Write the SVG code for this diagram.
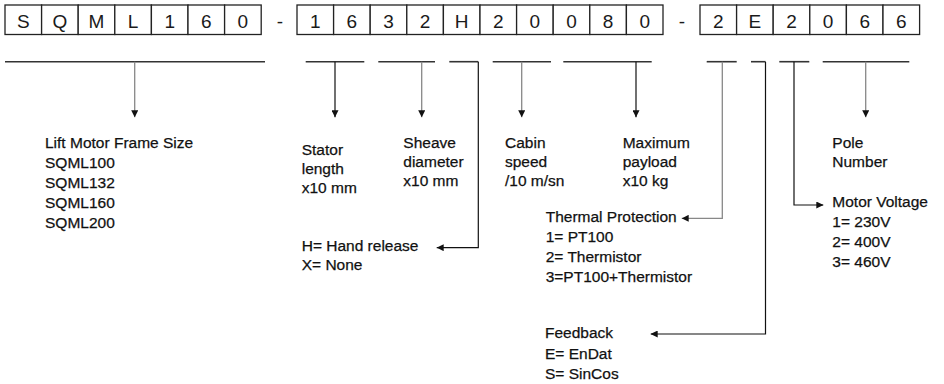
<svg xmlns="http://www.w3.org/2000/svg" width="944" height="384" viewBox="0 0 944 384">
<defs>
<style>
.cell{fill:#fff;stroke:#222;stroke-width:1.3}
.ct{font-family:"Liberation Sans",Arial,sans-serif;font-size:19px;fill:#1a1a1a;text-anchor:middle}
.lb{font-family:"Liberation Sans",Arial,sans-serif;font-size:15.5px;fill:#111;stroke:#111;stroke-width:0.25}
.bar{stroke:#333;stroke-width:1.6;fill:none}
.ln{stroke:#111;stroke-width:1.2;fill:none}
.lg{stroke:#888;stroke-width:1.3;fill:none}
</style>
<marker id="ah" viewBox="0 0 10 10" refX="10" refY="5" markerWidth="7" markerHeight="7" markerUnits="userSpaceOnUse" orient="auto">
<path d="M0,0 L10,5 L0,10 z" fill="#111"/>
</marker>
</defs>
<rect width="944" height="384" fill="#fff"/>

<g id="code-frame">
<rect class="cell" x="5" y="5" width="36.6" height="29.5"/>
<rect class="cell" x="41.6" y="5" width="36.6" height="29.5"/>
<rect class="cell" x="78.2" y="5" width="36.6" height="29.5"/>
<rect class="cell" x="114.8" y="5" width="36.6" height="29.5"/>
<rect class="cell" x="151.4" y="5" width="36.6" height="29.5"/>
<rect class="cell" x="188" y="5" width="36.6" height="29.5"/>
<rect class="cell" x="224.6" y="5" width="36.6" height="29.5"/>
<text class="ct" x="23.3" y="28">S</text>
<text class="ct" x="59.9" y="28">Q</text>
<text class="ct" x="96.5" y="28">M</text>
<text class="ct" x="133.1" y="28">L</text>
<text class="ct" x="169.7" y="28">1</text>
<text class="ct" x="206.3" y="28">6</text>
<text class="ct" x="242.9" y="28">0</text>
</g>
<text class="ct" x="280" y="28">-</text>
<g id="code-mid">
<rect class="cell" x="297" y="5" width="36.6" height="29.5"/>
<rect class="cell" x="333.6" y="5" width="36.6" height="29.5"/>
<rect class="cell" x="370.2" y="5" width="36.6" height="29.5"/>
<rect class="cell" x="406.8" y="5" width="36.6" height="29.5"/>
<rect class="cell" x="443.4" y="5" width="36.6" height="29.5"/>
<rect class="cell" x="480" y="5" width="36.6" height="29.5"/>
<rect class="cell" x="516.6" y="5" width="36.6" height="29.5"/>
<rect class="cell" x="553.2" y="5" width="36.6" height="29.5"/>
<rect class="cell" x="589.8" y="5" width="36.6" height="29.5"/>
<rect class="cell" x="626.4" y="5" width="36.6" height="29.5"/>
<text class="ct" x="315.3" y="28">1</text>
<text class="ct" x="351.9" y="28">6</text>
<text class="ct" x="388.5" y="28">3</text>
<text class="ct" x="425.1" y="28">2</text>
<text class="ct" x="461.7" y="28">H</text>
<text class="ct" x="498.3" y="28">2</text>
<text class="ct" x="534.9" y="28">0</text>
<text class="ct" x="571.5" y="28">0</text>
<text class="ct" x="608.1" y="28">8</text>
<text class="ct" x="644.7" y="28">0</text>
</g>
<text class="ct" x="682" y="28">-</text>
<g id="code-end">
<rect class="cell" x="700" y="5" width="36.6" height="29.5"/>
<rect class="cell" x="736.6" y="5" width="36.6" height="29.5"/>
<rect class="cell" x="773.2" y="5" width="36.6" height="29.5"/>
<rect class="cell" x="809.8" y="5" width="36.6" height="29.5"/>
<rect class="cell" x="846.4" y="5" width="36.6" height="29.5"/>
<rect class="cell" x="883" y="5" width="36.6" height="29.5"/>
<text class="ct" x="718.3" y="28">2</text>
<text class="ct" x="754.9" y="28">E</text>
<text class="ct" x="791.5" y="28">2</text>
<text class="ct" x="828.1" y="28">0</text>
<text class="ct" x="864.7" y="28">6</text>
<text class="ct" x="901.3" y="28">6</text>
</g>

<g id="connectors">
<line class="bar" x1="5" y1="61.7" x2="265" y2="61.7"/>
<line class="lg" x1="134.7" y1="61.7" x2="134.7" y2="117.3" marker-end="url(#ah)"/>
<line class="bar" x1="305.7" y1="61.7" x2="364.3" y2="61.7"/>
<line class="ln" x1="335" y1="61.7" x2="335" y2="117.3" marker-end="url(#ah)"/>
<line class="bar" x1="378.3" y1="61.7" x2="435" y2="61.7"/>
<line class="lg" x1="421.7" y1="61.7" x2="421.7" y2="117.3" marker-end="url(#ah)"/>
<path class="bar" d="M449.3,61.7 H478.3"/>
<path class="ln" d="M478.3,61.7 V247.7 H436.7" marker-end="url(#ah)"/>
<line class="bar" x1="492.7" y1="61.7" x2="551" y2="61.7"/>
<line class="lg" x1="521.7" y1="61.7" x2="521.7" y2="117.3" marker-end="url(#ah)"/>
<line class="bar" x1="563.3" y1="61.7" x2="651.7" y2="61.7"/>
<line class="ln" x1="636" y1="61.7" x2="636" y2="117.3" marker-end="url(#ah)"/>
<line class="bar" x1="706.7" y1="61.7" x2="736.7" y2="61.7"/>
<path class="lg" d="M722.3,61.7 V218.3 H681.7" marker-end="url(#ah)"/>
<line class="bar" x1="751" y1="61.7" x2="765.5" y2="61.7"/>
<path class="ln" d="M765.5,61.7 V334 H650.7" marker-end="url(#ah)"/>
<line class="bar" x1="779.3" y1="61.7" x2="809.3" y2="61.7"/>
<path class="ln" d="M794,61.7 V205 H823.3" marker-end="url(#ah)"/>
<line class="bar" x1="822.7" y1="61.7" x2="909.3" y2="61.7"/>
<line class="lg" x1="865.7" y1="61.7" x2="865.7" y2="117.3" marker-end="url(#ah)"/>
</g>

<g id="frame-size">
<text class="lb" x="45" y="148.3">Lift Motor Frame Size</text>
<text class="lb" x="45" y="168.3">SQML100</text>
<text class="lb" x="45" y="188.3">SQML132</text>
<text class="lb" x="45" y="208.3">SQML160</text>
<text class="lb" x="45" y="228.3">SQML200</text>
</g>
<g id="stator-length">
<text class="lb" x="301.7" y="155">Stator</text>
<text class="lb" x="301.7" y="173.5">length</text>
<text class="lb" x="301.7" y="192.7">x10 mm</text>
</g>
<g id="sheave-diameter">
<text class="lb" x="403.3" y="147.7">Sheave</text>
<text class="lb" x="403.3" y="166.5">diameter</text>
<text class="lb" x="403.3" y="186">x10 mm</text>
</g>
<g id="hand-release">
<text class="lb" x="301.7" y="250.7">H= Hand release</text>
<text class="lb" x="301.7" y="270">X= None</text>
</g>
<g id="cabin-speed">
<text class="lb" x="505" y="147.7">Cabin</text>
<text class="lb" x="505" y="166.5">speed</text>
<text class="lb" x="505" y="186">/10 m/sn</text>
</g>
<g id="max-payload">
<text class="lb" x="622.7" y="147.7">Maximum</text>
<text class="lb" x="622.7" y="166.5">payload</text>
<text class="lb" x="622.7" y="186">x10 kg</text>
</g>
<g id="thermal-protection">
<text class="lb" x="545.7" y="221.7">Thermal Protection</text>
<text class="lb" x="545.7" y="241.5">1= PT100</text>
<text class="lb" x="545.7" y="261.5">2= Thermistor</text>
<text class="lb" x="545.7" y="281.5">3=PT100+Thermistor</text>
</g>
<g id="feedback">
<text class="lb" x="545" y="338.3">Feedback</text>
<text class="lb" x="545" y="359">E= EnDat</text>
<text class="lb" x="545" y="379.3">S= SinCos</text>
</g>
<g id="motor-voltage">
<text class="lb" x="832.3" y="206.7">Motor Voltage</text>
<text class="lb" x="832.3" y="226.7">1= 230V</text>
<text class="lb" x="832.3" y="246.7">2= 400V</text>
<text class="lb" x="832.3" y="266.7">3= 460V</text>
</g>
<g id="pole-number">
<text class="lb" x="832.3" y="147.7">Pole</text>
<text class="lb" x="832.3" y="166.5">Number</text>
</g>
</svg>
